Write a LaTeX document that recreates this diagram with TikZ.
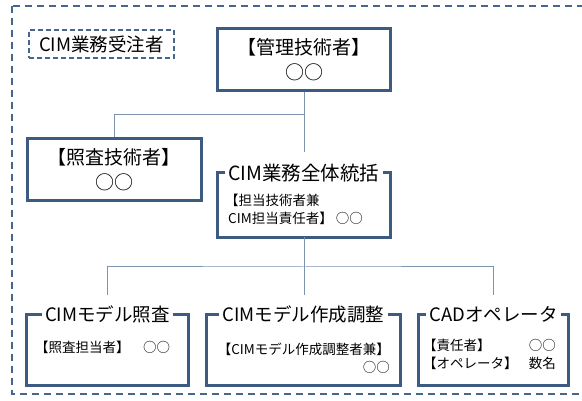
\documentclass[tikz,border=0pt]{standalone}
\usepackage{fontspec}
\setmainfont{Noto Sans CJK JP}
\definecolor{boxc}{HTML}{3D5A80}
\definecolor{linec}{HTML}{7E93AE}
\definecolor{dashc}{HTML}{46668E}
\begin{document}
\begin{tikzpicture}[x=1pt,y=-1pt,
  lbl/.style={draw=dashc, line width=2pt, dash pattern=on 5pt off 3pt, minimum width=145pt, minimum height=28pt, inner sep=0pt, font=\fontsize{18.5}{20}\selectfont},
  solidbox/.style={draw=boxc, line width=3pt, inner sep=0pt, align=center, font=\fontsize{19}{25}\selectfont},
  frame/.style={inner sep=0pt},
  ttl/.style={inner xsep=3pt, inner ysep=0pt, font=\fontsize{18.5}{20}\selectfont},
  body/.style={inner sep=0pt, align=left, font=\fontsize{13.5}{18}\selectfont},
  bracket/.style={draw=boxc, line width=3pt},
  conn/.style={draw=linec, line width=1pt}]
\useasboundingbox (0,0) rectangle (582,401);
\clip (0,0) rectangle (582,401);
\fill[white] (0,0) rectangle (582,401);
\draw[dashc, line width=2.5pt, dash pattern=on 7pt off 5pt] (12,6) rectangle (600,394);

\node[lbl] (lbl) at (101.5,44) {CIM業務受注者};
\node[solidbox, minimum width=173pt, minimum height=62pt] (mgr) at (304,60) {【管理技術者】\\○○};
\node[solidbox, minimum width=174pt, minimum height=62pt] (chk) at (114,170) {【照査技術者】\\○○};

% overall coordination
\node[frame, minimum width=172pt, minimum height=64pt] (gen) at (304,205) {};
\node[ttl, font=\fontsize{19.5}{20}\selectfont] (gent) at (gen.north) {CIM業務全体統括};
\node[body, anchor=west] (genb) at (225,209) {【担当技術者兼\\\ CIM担当責任者】 ○○};
\draw[bracket] (gent.west |- gen.north) -- (gen.north west) -- (gen.south west) -- (gen.south east) -- (gen.north east) -- (gent.east |- gen.north);

% bottom boxes
\node[frame, minimum width=161pt, minimum height=70pt] (b1) at (107.5,350) {};
\node[ttl] (b1t) at (b1.north) {CIMモデル照査};
\node[body, anchor=west] (b1b) at (35,347) {【照査担当者】　○○};
\draw[bracket] (b1t.west |- b1.north) -- (b1.north west) -- (b1.south west) -- (b1.south east) -- (b1.north east) -- (b1t.east |- b1.north);

\node[frame, minimum width=193pt, minimum height=70pt] (b2) at (303.5,350) {};
\node[ttl] (b2t) at (b2.north) {CIMモデル作成調整};
\node[body, anchor=east, align=right] (b2b) at (390,358) {【CIMモデル作成調整者兼】\\○○};
\draw[bracket] (b2t.west |- b2.north) -- (b2.north west) -- (b2.south west) -- (b2.south east) -- (b2.north east) -- (b2t.east |- b2.north);

\node[frame, minimum width=149pt, minimum height=70pt] (b3) at (493.5,350) {};
\node[ttl] (b3t) at (b3.north) {CADオペレータ};
\node[body, anchor=west] (b3l) at (423,354) {【責任者】\\【オペレータ】};
\node[body, anchor=east, align=right] (b3r) at (556,354) {○○\\数名};
\draw[bracket] (b3t.west |- b3.north) -- (b3.north west) -- (b3.south west) -- (b3.south east) -- (b3.north east) -- (b3t.east |- b3.north);

% connectors
\coordinate (j1) at (304,115);
\coordinate (genin) at (304,152);
\draw[conn] (mgr.south) -- (genin);
\draw[conn] (chk.north) |- (j1);
\coordinate (j2) at (304,267);
\coordinate (b1in) at (107,295);
\coordinate (b2in) at (304,295);
\coordinate (b3in) at (493,295);
\draw[conn] (gen.south) -- (j2);
\draw[conn] (b1in) |- (j2) -| (b3in);
\draw[conn] (j2) -- (b2in);
\end{tikzpicture}
\end{document}
